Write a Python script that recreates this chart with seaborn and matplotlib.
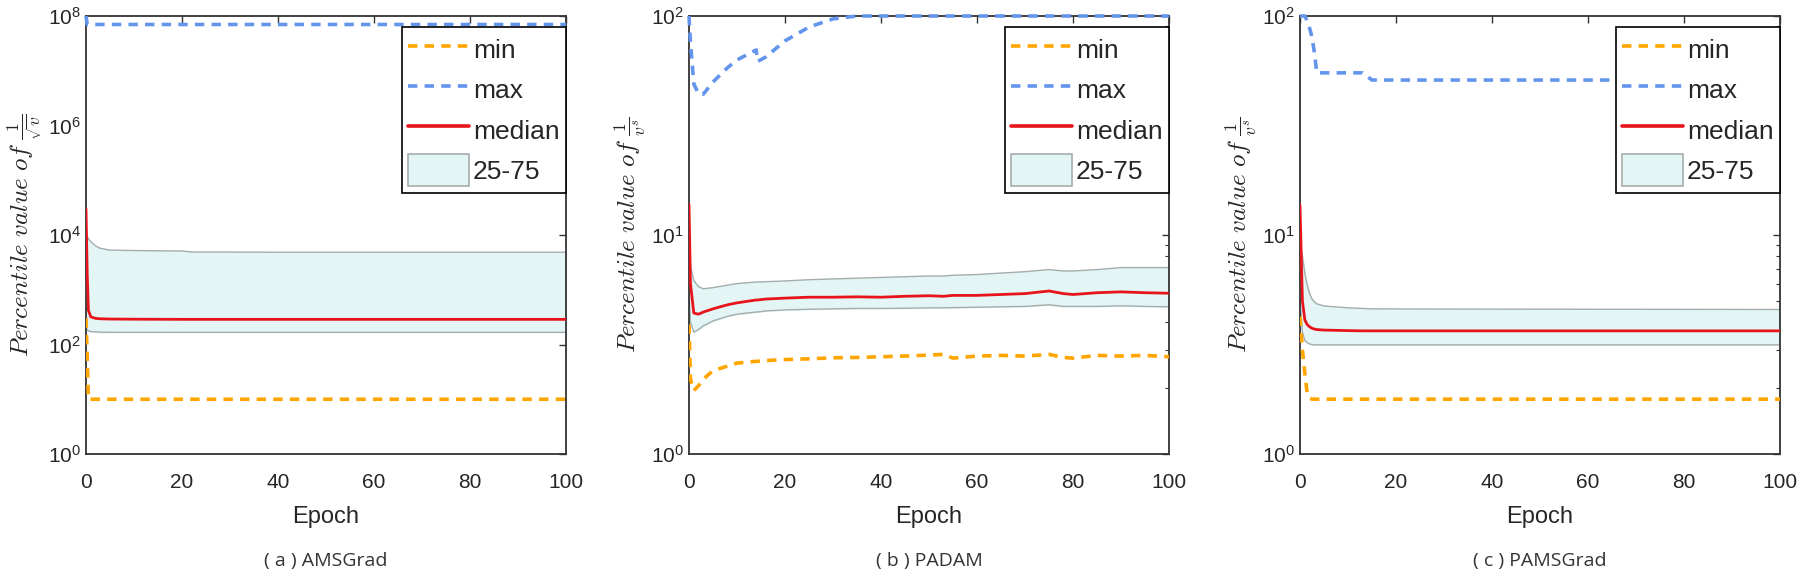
import matplotlib
matplotlib.use("Agg")
import matplotlib.pyplot as plt
import matplotlib.patches as mpatches
import matplotlib.lines as mlines
from matplotlib.ticker import LogLocator, NullFormatter
import pandas as pd
import seaborn as sns

# ---- data ----
a_epoch = [0, 0.25, 0.5, 1, 2, 3, 5, 10, 20, 22, 40, 60, 80, 100]
a_min = [300, 60, 10, 10, 10, 10, 10, 10, 10, 10, 10, 10, 10, 10]
a_max = [1e8, 7e7, 7e7, 7e7, 7e7, 7e7, 7e7, 7e7, 7e7, 7e7, 7e7, 7e7, 7e7, 7e7]
a_median = [3e4, 2000, 420, 320, 300, 295, 292, 290, 288, 288, 288, 288, 288, 288]
a_p25 = [200, 185, 178, 172, 170, 168, 167, 167, 167, 167, 167, 167, 167, 167]
a_p75 = [1.1e4, 9500, 8500, 7500, 6300, 5700, 5300, 5200, 5100, 4900, 4850, 4850, 4850, 4850]

b_epoch = [0, 0.3, 1, 2, 3, 5, 8, 10, 14, 14.3, 16, 20, 25, 30, 35, 40, 45,
           50, 53, 55, 60, 65, 70, 75, 78, 80, 85, 90, 95, 100]
b_min = [3.9, 2.2, 1.95, 2.05, 2.2, 2.4, 2.52, 2.6, 2.65, 2.65, 2.67, 2.7, 2.72,
         2.75, 2.76, 2.78, 2.8, 2.83, 2.85, 2.74, 2.8, 2.82, 2.8, 2.85, 2.76,
         2.74, 2.82, 2.8, 2.82, 2.78]
b_max = [100, 76, 49, 44, 44, 50, 58, 63, 70, 62, 65, 77, 89, 97, 100, 100, 100,
         100, 100, 100, 100, 100, 100, 100, 100, 100, 100, 100, 100, 100]
b_median = [13.8, 6.0, 4.4, 4.35, 4.45, 4.6, 4.8, 4.9, 5.05, 5.05, 5.1, 5.15, 5.2,
            5.2, 5.22, 5.2, 5.25, 5.28, 5.25, 5.3, 5.3, 5.35, 5.4, 5.55, 5.4,
            5.35, 5.45, 5.5, 5.45, 5.42]
b_p25 = [5.5, 4.0, 3.6, 3.7, 3.85, 4.05, 4.25, 4.35, 4.45, 4.45, 4.5, 4.55, 4.58,
         4.6, 4.62, 4.62, 4.63, 4.65, 4.65, 4.66, 4.68, 4.7, 4.72, 4.8, 4.72,
         4.72, 4.72, 4.75, 4.72, 4.7]
b_p75 = [9.0, 7.2, 6.2, 5.8, 5.68, 5.75, 5.9, 6.0, 6.1, 6.1, 6.12, 6.17, 6.25,
         6.3, 6.35, 6.4, 6.45, 6.5, 6.5, 6.55, 6.6, 6.7, 6.8, 6.95, 6.85, 6.85,
         6.95, 7.1, 7.1, 7.1]

c_epoch = [0, 0.5, 1, 1.5, 2, 2.5, 3, 3.5, 5, 10, 13, 15, 30, 100]
c_min = [4.24, 2.98, 2.34, 1.89, 1.8, 1.78, 1.78, 1.78, 1.78, 1.78, 1.78, 1.78, 1.78, 1.78]
c_max = [100, 100, 100, 95, 88, 80, 68, 55, 55, 55, 55, 51, 51, 51]
c_median = [13.7, 5.0, 4.1, 3.9, 3.81, 3.75, 3.72, 3.7, 3.68, 3.66, 3.65, 3.65, 3.65, 3.65]
c_p25 = [5.0, 3.6, 3.3, 3.22, 3.18, 3.16, 3.15, 3.15, 3.15, 3.15, 3.15, 3.15, 3.15, 3.15]
c_p75 = [9.0, 8.0, 6.7, 5.9, 5.4, 5.1, 4.95, 4.85, 4.74, 4.65, 4.62, 4.6, 4.59, 4.57]

captions = ["( a ) AMSGrad", "( b ) PADAM", "( c ) PAMSGrad"]
ylabels = [r"$Percentile\ value\ of\ \frac{1}{\sqrt{v}}$",
           r"$Percentile\ value\ of\ \frac{1}{v^{s}}$",
           r"$Percentile\ value\ of\ \frac{1}{v^{s}}$"]

sns.set_style("white")
plt.rcParams["font.family"] = ["Liberation Sans", "DejaVu Sans"]
plt.rcParams["mathtext.fontset"] = "cm"

C_MIN = "#FFA500"
C_MAX = "#6495ED"
C_MED = "#E8141C"
C_FILL = "#E3F5F5"
C_EDGE = "#A5ADAD"

panels = [
    (a_epoch, a_min, a_max, a_median, a_p25, a_p75, (1, 1e8)),
    (b_epoch, b_min, b_max, b_median, b_p25, b_p75, (1, 100)),
    (c_epoch, c_min, c_max, c_median, c_p25, c_p75, (1, 100)),
]
lefts = [86 / 1800, 689 / 1800, 1300 / 1800]

fig = plt.figure(figsize=(18, 5.72), dpi=100)

for i, (ep, mn, mx, md, p25, p75, ylim) in enumerate(panels):
    ax = fig.add_axes([lefts[i], 118 / 572, 480 / 1800, 438 / 572])
    df = pd.DataFrame({"epoch": ep, "min": mn, "max": mx, "median": md,
                       "p25": p25, "p75": p75})
    ax.fill_between(df["epoch"], df["p25"], df["p75"], color=C_FILL, zorder=1)
    sns.lineplot(data=df, x="epoch", y="p25", ax=ax, color=C_EDGE, lw=1.0, zorder=2)
    sns.lineplot(data=df, x="epoch", y="p75", ax=ax, color=C_EDGE, lw=1.0, zorder=2)
    sns.lineplot(data=df, x="epoch", y="min", ax=ax, color=C_MIN, lw=2.6,
                 dashes=(2.6, 2.0), zorder=3)
    sns.lineplot(data=df, x="epoch", y="max", ax=ax, color=C_MAX, lw=2.6,
                 dashes=(2.6, 2.0), zorder=3, clip_on=False)
    sns.lineplot(data=df, x="epoch", y="median", ax=ax, color=C_MED, lw=2.0, zorder=4)

    ax.set_yscale("log")
    ax.set_xlim(0, 100)
    ax.set_ylim(*ylim)
    ax.set_xticks([0, 20, 40, 60, 80, 100])
    if i == 0:
        ax.set_yticks([1, 1e2, 1e4, 1e6, 1e8])
        ax.yaxis.set_minor_locator(LogLocator(base=10, subs=(1.0,), numticks=20))
    else:
        ax.set_yticks([1, 10, 100])
        ax.yaxis.set_minor_locator(LogLocator(base=10, subs=(2, 3, 4, 5, 6, 7, 8, 9), numticks=20))
    ax.yaxis.set_minor_formatter(NullFormatter())
    ax.tick_params(axis="both", which="both", direction="in", top=True, right=True,
                   colors="#333333", labelcolor="#262626", labelsize=15)
    ax.tick_params(which="major", length=5, width=1)
    ax.tick_params(which="minor", length=3, width=0.8)
    ax.tick_params(axis="x", pad=14)
    for s in ax.spines.values():
        s.set_color("#333333")
        s.set_linewidth(1.3)

    ax.set_xlabel("Epoch", fontsize=17, color="#262626", labelpad=10)
    ax.set_ylabel(ylabels[i], fontsize=18, color="#262626", labelpad=2)

    handles = [
        mlines.Line2D([], [], color=C_MIN, lw=2.6, dashes=(2.6, 2.0)),
        mlines.Line2D([], [], color=C_MAX, lw=2.6, dashes=(2.6, 2.0)),
        mlines.Line2D([], [], color=C_MED, lw=2.6),
        mpatches.Patch(facecolor=C_FILL, edgecolor=C_EDGE, lw=1.2),
    ]
    leg = ax.legend(handles, ["min", "max", "median", "25-75"], loc="upper right",
                    bbox_to_anchor=(1.0, 0.975), fontsize=19, frameon=True,
                    fancybox=False, framealpha=1, edgecolor="black",
                    handlelength=2.3, handletextpad=0.15, labelspacing=0.3,
                    borderpad=0.25, borderaxespad=0.0, handleheight=1.5)
    leg.get_frame().set_linewidth(1.2)

    fig.text(lefts[i] + 240 / 1800, 11 / 572, captions[i], ha="center", va="center",
             fontsize=14, color="#333333", family=["Open Sans", "DejaVu Sans"])

fig.savefig("out.png", dpi=100)
